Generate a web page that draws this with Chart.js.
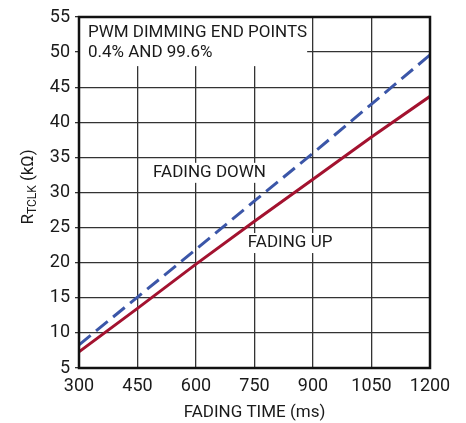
<!DOCTYPE html>
<html><head><meta charset="utf-8">
<script src="https://cdn.jsdelivr.net/npm/chart.js@4/dist/chart.umd.min.js"></script>
<style>html,body{margin:0;padding:0;background:#fff}#wrap{width:466px;height:423px}</style>
</head><body><div id="wrap"><canvas id="c" width="466" height="423"></canvas></div>
<script>
const fadingTimeMs = [300, 450, 600, 750, 900, 1050, 1200];
const fadingDown = [8.3, 15.1, 21.9, 28.8, 35.6, 42.6, 49.6];
const fadingUp = [7.3, 13.5, 19.8, 25.9, 31.9, 37.9, 43.7];
const xTicks = [300, 450, 600, 750, 900, 1050, 1200];
const yTicks = [5, 10, 15, 20, 25, 30, 35, 40, 45, 50, 55];

const FAMILY = "Roboto, 'Liberation Sans', sans-serif";
const TXT = '#1a1a1a';
const S = 17;
function fontStr(size) { return size + 'px ' + FAMILY; }

const annot = {
  id: 'annot',
  beforeDatasetsDraw(chart) {
    const {ctx, scales: {x, y}} = chart;
    ctx.save();
    ctx.font = fontStr(S);
    ctx.textBaseline = 'middle';
    const labels = [
      {t: 'FADING DOWN', xv: 490, yv: 32.8},
      {t: 'FADING UP', xv: 733, yv: 22.8}
    ];
    labels.forEach(l => {
      const px = x.getPixelForValue(l.xv), py = y.getPixelForValue(l.yv);
      const tw = ctx.measureText(l.t).width;
      ctx.fillStyle = '#fff';
      ctx.fillRect(px - 3, py - 10, tw + 6, 20);
      ctx.fillStyle = TXT;
      ctx.fillText(l.t, px, py);
    });
    const bx0 = x.getPixelForValue(300), bx1 = x.getPixelForValue(885);
    const by0 = y.getPixelForValue(55), by1 = y.getPixelForValue(48.0);
    ctx.fillStyle = '#fff';
    ctx.fillRect(bx0 + 1, by0 + 1, bx1 - bx0 - 1, by1 - by0 - 1);
    ctx.fillStyle = TXT;
    const tx = x.getPixelForValue(323);
    ctx.fillText('PWM DIMMING END POINTS', tx, y.getPixelForValue(52.7));
    ctx.fillText('0.4% AND 99.6%', tx, y.getPixelForValue(49.9));
    ctx.restore();
  },
  afterDraw(chart) {
    const {ctx, chartArea: a} = chart;
    ctx.save();
    ctx.strokeStyle = '#111';
    ctx.lineWidth = 2.5;
    ctx.strokeRect(a.left, a.top, a.right - a.left, a.bottom - a.top);
    ctx.translate(27, 187);
    ctx.rotate(-Math.PI / 2);
    ctx.fillStyle = TXT;
    ctx.textBaseline = 'alphabetic';
    const big = fontStr(S), small = fontStr(12);
    ctx.font = big; const w1 = ctx.measureText('R').width;
    ctx.font = small; const w2 = ctx.measureText('TCLK').width;
    ctx.font = big; const w3 = ctx.measureText(' (kΩ)').width;
    let sx = -(w1 + w2 + w3) / 2;
    ctx.font = big; ctx.fillText('R', sx, 6); sx += w1;
    ctx.font = small; ctx.fillText('TCLK', sx, 9); sx += w2;
    ctx.font = big; ctx.fillText(' (kΩ)', sx, 6);
    ctx.restore();
  }
};

const tickFont = {family: FAMILY, size: 18};

new Chart(document.getElementById('c'), {
  type: 'line',
  data: {
    datasets: [
      {label: 'FADING DOWN', data: fadingTimeMs.map((t, i) => ({x: t, y: fadingDown[i]})),
       borderColor: '#3b56a8', borderWidth: 3, borderDash: [15, 7], pointRadius: 0, fill: false, tension: 0},
      {label: 'FADING UP', data: fadingTimeMs.map((t, i) => ({x: t, y: fadingUp[i]})),
       borderColor: '#a3122f', borderWidth: 3, pointRadius: 0, fill: false, tension: 0}
    ]
  },
  options: {
    responsive: false, animation: false, devicePixelRatio: 1,
    layout: {padding: {left: 0, top: 17, right: 36, bottom: 0}},
    plugins: {legend: {display: false}, tooltip: {enabled: false}},
    scales: {
      x: {
        type: 'linear', min: 300, max: 1200,
        afterBuildTicks(s) { s.ticks = xTicks.map(v => ({value: v})); },
        afterFit(s) { s.height = 55; },
        grid: {color: '#333', lineWidth: 1.3, drawTicks: false},
        border: {display: false},
        ticks: {color: TXT, font: tickFont, padding: 8, maxRotation: 0, autoSkip: false,
                callback: v => String(v)},
        title: {display: true, text: 'FADING TIME (ms)', color: TXT,
                font: {family: FAMILY, size: S}, padding: {top: 2, bottom: 0}}
      },
      y: {
        min: 5, max: 55,
        afterBuildTicks(s) { s.ticks = yTicks.map(v => ({value: v})); },
        afterFit(s) { s.width = 79; },
        grid: {color: '#333', lineWidth: 1.3, tickLength: 4},
        border: {display: false},
        ticks: {color: TXT, font: tickFont, padding: 5, autoSkip: false, callback: v => String(v)}
      }
    }
  },
  plugins: [annot]
});
</script></body></html>
